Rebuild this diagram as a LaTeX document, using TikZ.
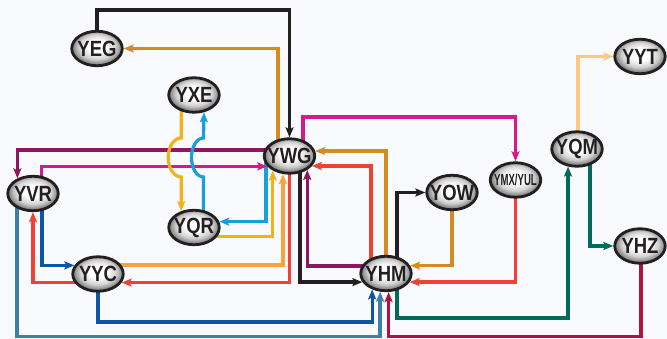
\documentclass[tikz,border=0pt]{standalone}
\usepackage{fontspec}
\newfontfamily\aptfont[FakeStretch=0.84]{Liberation Sans}
\newfontfamily\aptnarrow[FakeStretch=0.6]{Liberation Sans}
\usepackage{tikz}
\usetikzlibrary{shapes.geometric}
\usetikzlibrary{calc,arrows.meta}
\definecolor{rt-black}{HTML}{231F20}
\definecolor{rt-gold}{HTML}{D68B1F}
\definecolor{rt-plum}{HTML}{8E1763}
\definecolor{rt-magenta}{HTML}{D31B8C}
\definecolor{rt-red}{HTML}{EF4136}
\definecolor{rt-navy}{HTML}{0D56A6}
\definecolor{rt-steel}{HTML}{3C80A3}
\definecolor{rt-crimson}{HTML}{B3123F}
\definecolor{rt-teal}{HTML}{006A5B}
\definecolor{rt-peach}{HTML}{FDC780}
\definecolor{rt-yellow}{HTML}{F4B219}
\definecolor{rt-cyan}{HTML}{199FDA}
\definecolor{rt-orange}{HTML}{FAA33D}
\definecolor{rt-paper}{HTML}{F9FAFD}
\pgfdeclareradialshading{silver}{\pgfpoint{0bp}{4bp}}{color(0bp)=(white); color(9bp)=(white); color(18bp)=(black!18); color(23bp)=(black!42); color(25bp)=(black!50); color(50bp)=(black!50)}
\pgfdeclarelayer{routes}
\pgfsetlayers{routes,main}

\begin{document}
\begin{tikzpicture}[
    x=1pt, y=1pt, % one unit per pixel of the route map
    font=\aptfont,
    >={Stealth[length=10pt,width=8pt,inset=2pt]}
  ]

  % Styles for airports and routes
  \tikzset{
    apt/.style={ellipse, draw=rt-black, line width=2.8pt, shade, shading=silver, minimum width=50.5pt, minimum height=34.5pt, inner xsep=-8pt, inner ysep=-4pt, text=rt-black, font=\aptfont\bfseries\fontsize{22}{22}\selectfont},
    route/.style={line width=3.2pt}
  }

  \useasboundingbox (0,0) rectangle (667,339);

  % Airports
  \node (YEG) [apt] at (97,290.5) {YEG};
  \node (YXE) [apt] at (194,244) {YXE};
  \node (YWG) [apt] at (289.5,183) {YWG};
  \node (YVR) [apt] at (33,145.5) {YVR};
  \node (YQR) [apt] at (194,111.5) {YQR};
  \node (YYC) [apt] at (98,65) {YYC};
  \node (YHM) [apt] at (386,65.5) {YHM};
  \node (YOW) [apt] at (452,146.5) {YOW};
  \node (YMX) [apt, font=\aptnarrow\bfseries\fontsize{16}{16}\selectfont] at (515.5,159) {YMX/YUL};
  \node (YQM) [apt] at (577,190) {YQM};
  \node (YYT) [apt] at (640,282.5) {YYT};
  \node (YHZ) [apt] at (640,93) {YHZ};

  \begin{pgfonlayer}{routes}
  \fill[rt-paper] (0,0) rectangle (667,339);

  % Routes out of the west
  \draw[->, route, rt-black] (YEG.center) -- ++(0,38.5) -| (YWG.north);
  \draw[->, route, rt-gold] ([xshift=-11.5]YWG.center) |- (YEG.east);
  \draw[->, route, rt-plum] ([yshift=6]YWG.center) -| (YVR.136);
  \draw[->, route, rt-cyan] ([xshift=-23.5]YWG.center) |- (YQR.13);
  \draw[->, route, rt-magenta] ([xshift=8.5]YVR.center) |- (YWG.205);
  \draw[->, route, rt-magenta] ([xshift=13.5]YWG.center) -- ++(0,39) -| (YMX.north);
  \draw[->, route, rt-yellow] ([yshift=-9]YQR.center) -| (YWG.221);
  \draw[->, route, rt-orange] ([yshift=9]YYC.center) -| (YWG.250);
  \draw[->, route, rt-red] (YWG.center) |- (YYC.-20);
  \draw[->, route, rt-red] ([yshift=-8.6]YYC.center) -| (YVR.south);
  \draw[->, route, rt-navy] ([xshift=9]YVR.center) |- (YYC.160);

  % Hops over the east-west lines
  \draw[->, route, rt-yellow] ([xshift=-12.8]YXE.center) -- ++(0,-43)
    arc[start angle=90, end angle=270, x radius=13, y radius=19.5] -- (YQR.128);
  \draw[->, route, rt-cyan] ([xshift=9.5]YQR.center) -- ++(0,50.5)
    arc[start angle=270, end angle=90, x radius=12, y radius=19.5] -- (YXE.300);

  % Routes through YHM
  \draw[->, route, rt-black] ([xshift=10.5]YWG.center) |- (YHM.200);
  \draw[->, route, rt-plum] ([yshift=7.5]YHM.center) -| (YWG.322);
  \draw[->, route, rt-gold] (YHM.center) |- (YWG.11);
  \draw[->, route, rt-red] ([xshift=-15]YHM.center) |- (YWG.-24);
  \draw[->, route, rt-black] ([xshift=11]YHM.center) |- (YOW.west);
  \draw[->, route, rt-gold] (YOW.center) |- (YHM.18);
  \draw[->, route, rt-red] (YMX.center) |- (YHM.-20);
  \draw[->, route, rt-navy] (YYC.center) -- ++(0,-48) -| (YHM.229);
  \draw[->, route, rt-steel] ([xshift=-16]YVR.center) -- ++(0,-143.2) -| (YHM.252);
  \draw[->, route, rt-crimson] ([xshift=1]YHZ.center) -- ++(0,-90.7) -| (YHM.278);
  \draw[->, route, rt-teal] ([xshift=11]YHM.center) -- ++(0,-44.5) -| (YQM.243);

  % Routes in the east
  \draw[->, route, rt-teal] ([xshift=13]YQM.center) |- (YHZ.west);
  \draw[->, route, rt-peach] ([xshift=1]YQM.center) |- (YYT.west);
  \end{pgfonlayer}

\end{tikzpicture}
\end{document}
